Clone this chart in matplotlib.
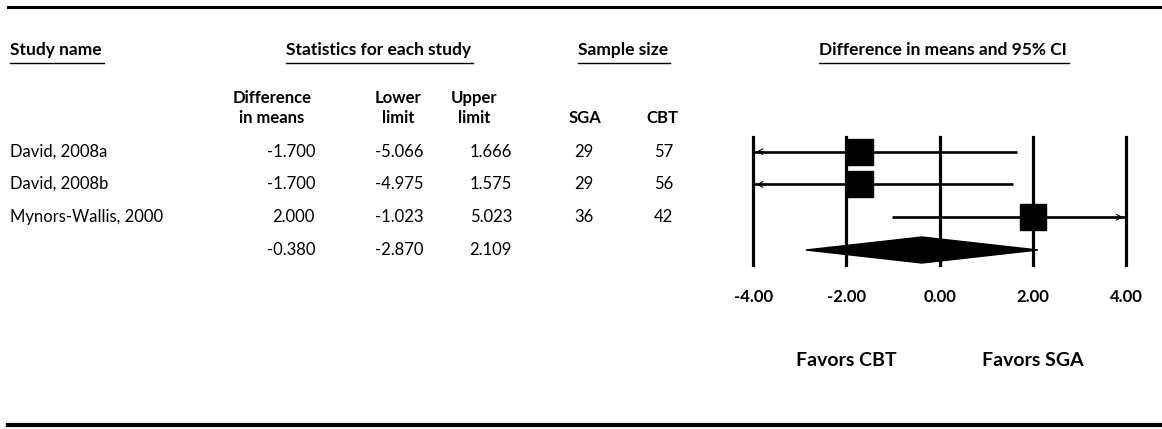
import numpy as np
import matplotlib
matplotlib.use("Agg")
import matplotlib.pyplot as plt
from matplotlib.lines import Line2D
from matplotlib.patches import Polygon

plt.rcParams['font.family'] = ['Lato', 'DejaVu Sans']

# data
studies = ["David, 2008a", "David, 2008b", "Mynors-Wallis, 2000", ""]
diff = [-1.700, -1.700, 2.000, -0.380]
lower = [-5.066, -4.975, -1.023, -2.870]
upper = [1.666, 1.575, 5.023, 2.109]
n_sga = ["29", "29", "36", ""]
n_cbt = ["57", "56", "42", ""]
ticks = [-4, -2, 0, 2, 4]

W, H = 1162, 429
fig = plt.figure(figsize=(W / 100, H / 100), dpi=100)


def fx(x):
    return x / W


def fy(y):
    return 1 - y / H


def ptext(x, y, s, ha="left", bold=False, size=12, **kw):
    return fig.text(fx(x), fy(y), s, ha=ha, va="center", fontsize=size,
                    fontweight="bold" if bold else "normal", **kw)


# rules top and bottom
fig.add_artist(Line2D([fx(8), 1], [fy(7), fy(7)], color="black", lw=2.2))
fig.add_artist(Line2D([fx(8), 1], [fy(425), fy(425)], color="black", lw=3))

# headers (underlined)
headers = [(10, "Study name", "left"), (378, "Statistics for each study", "center"),
           (623, "Sample size", "center"), (943, "Difference in means and 95% CI", "center")]
htexts = [ptext(x, 50, s, ha=ha, bold=True, size=12.5) for x, s, ha in headers]

# column subheaders
sub_y1, sub_y2 = 98, 118
ptext(272, sub_y1, "Difference", ha="center", bold=True)
ptext(272, sub_y2, "in means", ha="center", bold=True)
ptext(398, sub_y1, "Lower", ha="center", bold=True)
ptext(398, sub_y2, "limit", ha="center", bold=True)
ptext(474, sub_y1, "Upper", ha="center", bold=True)
ptext(474, sub_y2, "limit", ha="center", bold=True)
ptext(585, sub_y2, "SGA", ha="center", bold=True)
ptext(662, sub_y2, "CBT", ha="center", bold=True)

# table rows
row_y = [152, 184, 217, 250]
for i, y in enumerate(row_y):
    ptext(10, y, studies[i])
    ptext(315, y, f"{diff[i]:.3f}", ha="right")
    ptext(424, y, f"{lower[i]:.3f}", ha="right")
    ptext(512, y, f"{upper[i]:.3f}", ha="right")
    ptext(574, y, n_sga[i])
    ptext(654, y, n_cbt[i])

# forest plot axes
x0, x1 = 753.3, 1126
ytop, ybot = 137, 265
ax = fig.add_axes([fx(x0), fy(ybot), fx(x1 - x0), (ybot - ytop) / H])
ax.set_xlim(-4, 4)
row_px = [151.7, 184.3, 217.3, 250]
step = (row_px[-1] - row_px[0]) / 3
ax.set_ylim(3 + (ybot - row_px[-1]) / step, -(row_px[0] - ytop) / step)
for s in ax.spines.values():
    s.set_visible(False)
for t in ticks:
    ax.axvline(t, color="black", lw=2.3, clip_on=False)
ax.set_yticks([])
ax.set_xticks(ticks)
ax.set_xticklabels([f"{t:.2f}" for t in ticks], fontweight="bold", fontsize=12)
ax.tick_params(axis="x", length=0, pad=17)

for i in range(3):
    lo = max(lower[i], -4)
    hi = min(upper[i], 4)
    ax.plot([lo, hi], [i, i], color="black", lw=1.9, clip_on=False, solid_capstyle="butt")
    if lower[i] < -4:
        ax.annotate("", xy=(-4, i), xytext=(-3.7, i),
                    arrowprops=dict(arrowstyle="->", lw=0.8, color="black",
                                    mutation_scale=10))
    if upper[i] > 4:
        ax.annotate("", xy=(4, i), xytext=(3.7, i),
                    arrowprops=dict(arrowstyle="->", lw=0.8, color="black",
                                    mutation_scale=10))
    ax.plot(diff[i], i, marker="s", markersize=18.5, color="black", clip_on=False)

hh = 13 / step
ax.add_patch(Polygon([(lower[3], 3), (diff[3], 3 - hh), (upper[3], 3), (diff[3], 3 + hh)],
                     closed=True, color="black", clip_on=False))

ptext(846, 360, "Favors CBT", ha="center", bold=True, size=14)
ptext(1033, 360, "Favors SGA", ha="center", bold=True, size=14)

# underlines for the headers
fig.canvas.draw()
r = fig.canvas.get_renderer()
for t in htexts:
    bb = t.get_window_extent(r)
    fig.add_artist(Line2D([bb.x0 / W, (bb.x1 + 2) / W], [fy(63), fy(63)],
                          color="black", lw=1.0))

fig.savefig("out.png", dpi=100)
